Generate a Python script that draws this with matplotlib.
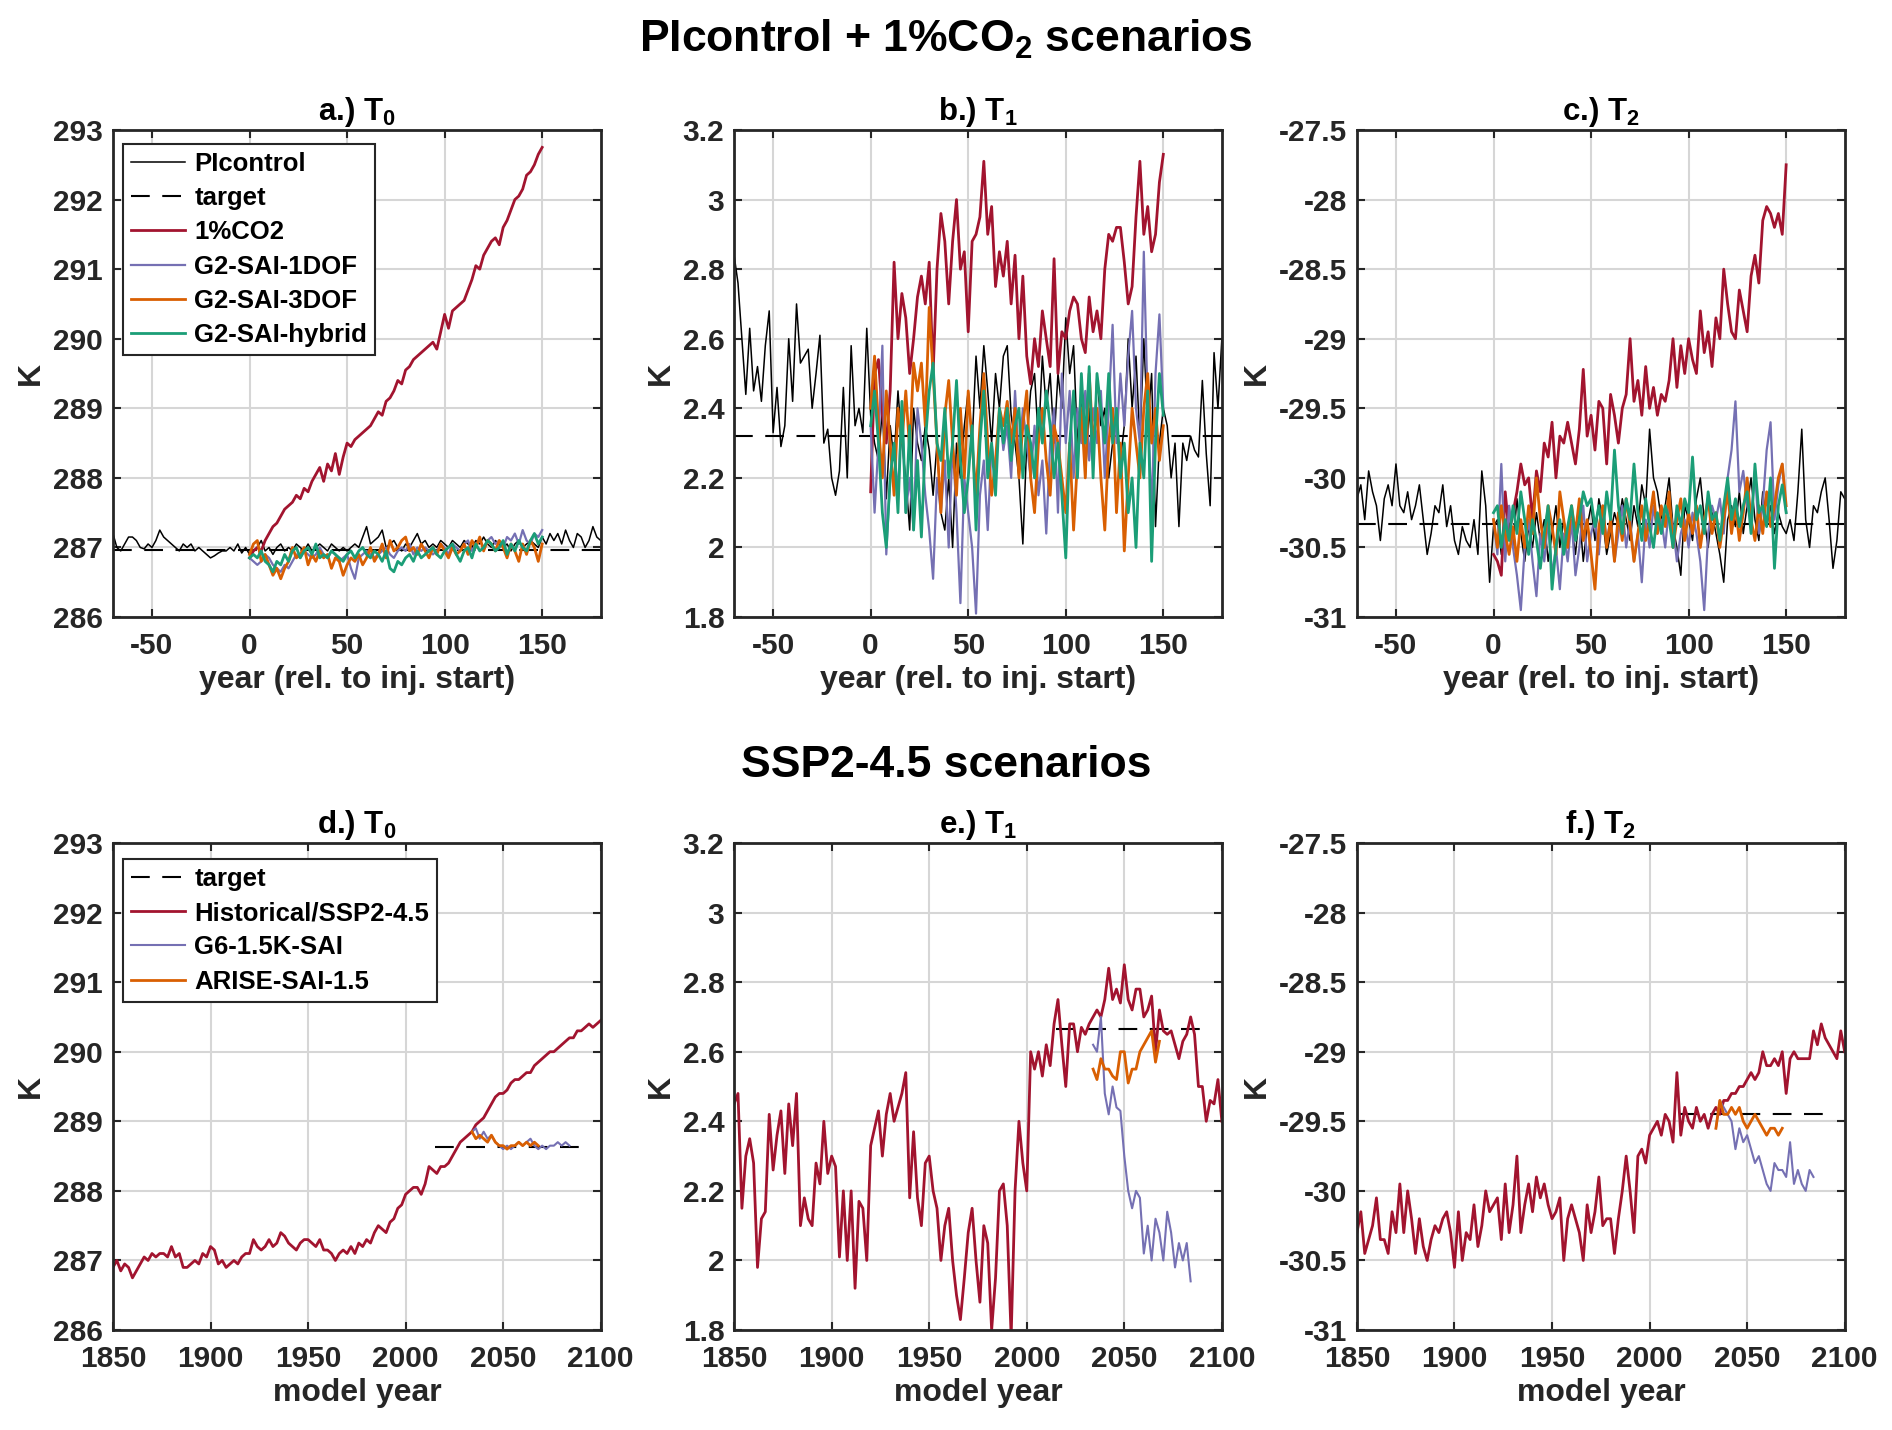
import numpy as np
import matplotlib.pyplot as plt

plt.rcParams['font.family'] = ['Liberation Sans', 'DejaVu Sans']
plt.rcParams['font.weight'] = 'bold'
plt.rcParams['mathtext.fontset'] = 'custom'
plt.rcParams['mathtext.rm'] = 'Liberation Sans:bold'
plt.rcParams['mathtext.bf'] = 'Liberation Sans:bold'
plt.rcParams['mathtext.it'] = 'Liberation Sans:bold'
plt.rcParams['mathtext.default'] = 'rm'

# ---------------- PIcontrol + 1%CO2 (years rel. to injection start) ----------------
# PIcontrol: -70 .. 180 every 2 yr ; SAI / 1%CO2 runs: 0 .. 150 every 2 yr
pi_T0 = [287.20, 287.00, 286.95, 287.05, 287.15, 287.15, 287.10, 287.00, 286.98, 287.05,
         287.00, 287.10, 287.25, 287.15, 287.10, 287.05, 287.00, 286.95, 287.05, 287.00,
         287.05, 286.95, 287.00, 286.95, 286.90, 286.85, 286.88, 286.92, 286.95, 286.95,
         287.00, 286.95, 287.05, 286.92, 287.00, 286.90, 286.95, 287.00, 287.10, 286.95,
         287.00, 286.90, 287.00, 287.05, 286.95, 287.00, 286.95, 287.05, 287.00, 286.95,
         287.05, 286.95, 287.00, 287.05, 287.00, 286.95, 287.05, 287.00, 286.95, 287.00,
         286.95, 287.00, 287.05, 287.00, 287.15, 287.30, 287.05, 287.10, 287.15, 287.25,
         287.00, 287.05, 287.10, 287.00, 286.95, 287.05, 287.00, 287.10, 287.20, 287.05,
         287.10, 287.00, 287.05, 287.00, 287.10, 287.05, 287.00, 287.10, 287.05, 287.00,
         287.10, 287.05, 287.00, 287.10, 287.05, 287.15, 287.05, 287.00, 287.10, 287.05,
         287.00, 287.05, 286.95, 287.05, 287.10, 287.00, 287.05, 287.10, 287.05, 287.00,
         287.15, 287.05, 287.20, 287.10, 287.20, 287.05, 287.25, 287.10, 287.00, 287.20,
         287.15, 287.00, 287.10, 287.30, 287.15, 287.10]
co2_T0 = [286.85, 286.95, 287.00, 286.95, 287.10, 287.20, 287.30, 287.35, 287.45, 287.55,
          287.60, 287.65, 287.75, 287.70, 287.85, 287.80, 287.95, 288.05, 288.15, 287.95,
          288.20, 288.10, 288.35, 288.05, 288.30, 288.50, 288.45, 288.55, 288.60, 288.65,
          288.70, 288.75, 288.85, 288.95, 288.90, 289.10, 289.15, 289.25, 289.40, 289.35,
          289.55, 289.60, 289.70, 289.75, 289.80, 289.85, 289.90, 289.95, 289.85, 290.10,
          290.35, 290.15, 290.40, 290.45, 290.50, 290.55, 290.70, 290.85, 291.05, 291.00,
          291.20, 291.30, 291.40, 291.45, 291.35, 291.60, 291.70, 291.85, 292.00, 292.05,
          292.15, 292.35, 292.40, 292.50, 292.65, 292.75]
dof1_T0 = [286.85, 286.80, 286.75, 286.80, 286.90, 286.85, 286.75, 286.70, 286.65, 286.75,
           286.70, 286.80, 286.90, 286.85, 286.95, 286.90, 286.85, 286.90, 287.00, 286.90,
           286.85, 286.95, 286.90, 286.80, 286.85, 286.90, 286.70, 286.55, 286.85, 286.90,
           286.95, 286.90, 286.85, 286.90, 286.95, 287.00, 286.90, 286.85, 286.95, 287.00,
           286.95, 287.05, 286.90, 287.00, 286.95, 287.00, 286.95, 286.90, 286.95, 287.05,
           287.00, 286.90, 287.05, 287.00, 286.95, 287.05, 287.10, 286.95, 287.05, 287.10,
           287.00, 287.10, 287.15, 287.05, 287.10, 287.00, 287.15, 287.10, 287.20, 287.05,
           287.25, 287.10, 287.05, 287.20, 287.15, 287.25]
dof3_T0 = [286.90, 287.05, 287.10, 286.80, 286.90, 286.75, 286.60, 286.70, 286.55, 286.70,
           286.80, 287.00, 286.85, 286.90, 287.00, 286.75, 286.90, 286.80, 286.95, 286.85,
           286.90, 286.70, 286.85, 286.80, 286.60, 286.75, 286.85, 286.80, 286.90, 286.75,
           286.85, 287.00, 286.80, 286.90, 287.05, 286.85, 287.10, 286.95, 287.00, 287.10,
           287.15, 286.95, 287.00, 286.90, 287.05, 286.95, 286.85, 287.00, 286.90, 287.05,
           286.95, 286.85, 287.00, 286.90, 286.95, 287.05, 286.90, 287.10, 287.00, 287.15,
           286.95, 287.10, 287.05, 286.95, 287.10, 287.00, 286.85, 287.05, 286.95, 286.80,
           287.05, 286.90, 287.10, 287.00, 286.80, 287.05]
hyb_T0 = [286.85, 286.90, 286.85, 286.95, 286.80, 286.75, 286.65, 286.80, 286.75, 286.90,
          286.80, 286.95, 287.00, 286.85, 286.95, 287.00, 286.90, 287.05, 286.85, 286.90,
          286.85, 286.95, 286.90, 286.85, 286.80, 286.90, 286.95, 286.85, 286.95, 287.00,
          286.90, 286.85, 286.95, 286.90, 286.80, 286.95, 286.70, 286.65, 286.80, 286.75,
          286.85, 286.90, 286.80, 286.95, 286.85, 286.90, 286.95, 287.00, 286.90, 286.85,
          286.95, 287.00, 287.05, 286.90, 286.80, 286.95, 287.00, 286.85, 287.05, 286.95,
          287.00, 287.10, 287.05, 286.95, 287.00, 287.10, 286.90, 287.05, 286.95, 287.10,
          287.00, 286.95, 287.10, 287.20, 287.05, 287.15]

pi_T1 = [2.84, 2.76, 2.60, 2.44, 2.63, 2.45, 2.52, 2.42, 2.58, 2.68,
         2.33, 2.46, 2.29, 2.35, 2.60, 2.42, 2.70, 2.53, 2.55, 2.57,
         2.40, 2.50, 2.61, 2.30, 2.34, 2.20, 2.15, 2.22, 2.46, 2.20,
         2.58, 2.35, 2.40, 2.33, 2.63, 2.38, 2.30, 2.25, 2.40, 2.14,
         2.35, 2.25, 2.45, 2.30, 2.20, 2.05, 2.40, 2.30, 2.25, 2.35,
         2.28, 2.15, 2.30, 2.10, 2.05, 2.20, 2.00, 2.30, 2.20, 2.35,
         2.45, 2.30, 2.55, 2.40, 2.58, 2.45, 2.30, 2.50, 2.40, 2.55,
         2.58, 2.38, 2.30, 2.20, 2.01, 2.30, 2.45, 2.50, 2.30, 2.55,
         2.40, 2.50, 2.30, 2.50, 2.40, 2.66, 2.50, 2.58, 2.30, 2.45,
         2.20, 2.40, 2.25, 2.50, 2.35, 2.40, 2.20, 2.30, 2.38, 2.25,
         2.35, 2.60, 2.40, 2.55, 2.30, 2.60, 2.35, 2.50, 2.06, 2.30,
         2.40, 2.35, 2.20, 2.30, 2.06, 2.30, 2.25, 2.32, 2.28, 2.26,
         2.48, 2.27, 2.12, 2.56, 2.40, 2.60]
co2_T1 = [2.16, 2.50, 2.54, 2.38, 2.30, 2.45, 2.82, 2.60, 2.73, 2.66,
          2.50, 2.60, 2.72, 2.78, 2.70, 2.82, 2.50, 2.80, 2.96, 2.88,
          2.70, 2.88, 3.00, 2.80, 2.85, 2.62, 2.88, 2.90, 2.95, 3.11,
          2.90, 2.98, 2.75, 2.85, 2.78, 2.88, 2.70, 2.84, 2.60, 2.78,
          2.55, 2.47, 2.60, 2.52, 2.68, 2.60, 2.52, 2.83, 2.50, 2.62,
          2.60, 2.68, 2.72, 2.70, 2.60, 2.56, 2.72, 2.62, 2.68, 2.60,
          2.80, 2.90, 2.88, 2.92, 2.92, 2.82, 2.70, 2.75, 2.95, 3.11,
          2.90, 2.98, 2.85, 2.90, 3.05, 3.13]
dof1_T1 = [2.35, 2.10, 2.30, 2.58, 1.98, 2.20, 2.30, 2.15, 2.40, 2.10,
           2.20, 2.05, 2.40, 2.30, 2.15, 2.05, 1.91, 2.20, 2.10, 2.25,
           2.00, 2.30, 2.10, 1.84, 2.20, 2.10, 2.00, 1.81, 2.15, 2.25,
           2.05, 2.30, 2.20, 2.40, 2.28, 2.35, 2.20, 2.45, 2.25, 2.40,
           2.30, 2.20, 2.35, 2.15, 2.25, 2.04, 2.30, 2.40, 2.10, 2.50,
           2.30, 2.45, 2.20, 2.40, 2.30, 2.45, 2.25, 2.40, 2.30, 2.45,
           2.20, 2.40, 2.64, 2.30, 2.50, 2.35, 2.55, 2.68, 2.40, 2.30,
           2.85, 2.40, 2.10, 2.50, 2.67, 2.40]
dof3_T1 = [2.40, 2.55, 2.35, 2.20, 2.45, 2.30, 2.15, 2.40, 2.30, 2.45,
           2.28, 2.53, 2.45, 2.53, 2.35, 2.69, 2.50, 2.30, 2.10, 2.38,
           2.48, 2.30, 2.15, 2.40, 2.20, 2.45, 2.30, 2.15, 2.35, 2.50,
           2.30, 2.15, 2.25, 2.40, 2.35, 2.42, 2.30, 2.40, 2.20, 2.35,
           2.45, 2.20, 2.10, 2.30, 2.40, 2.25, 2.15, 2.35, 2.30, 2.20,
           2.10, 2.30, 2.05, 2.25, 2.40, 2.20, 2.50, 2.30, 2.40, 2.20,
           2.05, 2.30, 2.40, 2.10, 2.30, 1.99, 2.20, 2.40, 2.30, 2.20,
           2.40, 2.50, 2.30, 2.40, 2.25, 2.35]
hyb_T1 = [2.35, 2.45, 2.30, 2.10, 2.00, 2.20, 2.30, 2.10, 2.42, 2.10,
          2.35, 2.05, 2.25, 2.03, 2.30, 2.45, 2.53, 2.30, 2.25, 2.40,
          2.20, 2.30, 2.48, 2.25, 2.10, 2.20, 2.35, 2.05, 2.30, 2.45,
          2.20, 2.30, 2.15, 2.40, 2.30, 2.40, 2.25, 2.35, 2.40, 2.20,
          2.35, 2.30, 2.20, 2.40, 2.30, 2.45, 2.35, 2.20, 2.30, 2.15,
          1.97, 2.30, 2.45, 2.20, 2.50, 2.30, 2.52, 2.20, 2.50, 2.40,
          2.30, 2.50, 2.30, 2.40, 2.20, 2.30, 2.10, 2.20, 2.00, 2.30,
          2.20, 2.45, 1.96, 2.30, 2.50, 2.38]

pi_T2 = [-30.15, -30.05, -30.30, -29.95, -30.10, -30.20, -30.45, -30.15, -30.05, -30.20,
         -29.90, -30.20, -30.25, -30.10, -30.30, -30.20, -30.05, -30.30, -30.55, -30.40,
         -30.20, -30.25, -30.05, -30.35, -30.20, -30.45, -30.55, -30.35, -30.45, -30.50,
         -30.30, -30.55, -29.95, -30.20, -30.75, -30.35, -30.30, -30.55, -30.40, -30.20,
         -30.50, -30.15, -30.40, -30.60, -30.35, -30.50, -30.25, -30.45, -30.30, -30.60,
         -30.40, -30.20, -30.50, -30.30, -30.45, -30.35, -30.55, -30.25, -30.60, -30.35,
         -30.20, -30.45, -30.15, -30.30, -30.55, -30.40, -30.25, -30.35, -30.15, -30.30,
         -30.45, -30.20, -30.35, -30.05, -30.20, -29.65, -30.00, -30.10, -30.30, -30.20,
         -30.00, -30.35, -30.50, -30.70, -30.20, -30.30, -30.45, -30.15, -30.00, -30.30,
         -30.50, -30.25, -30.40, -30.55, -30.75, -30.30, -30.20, -30.35, -30.10, -30.40,
         -30.20, -30.00, -30.30, -30.45, -30.10, -30.35, -30.20, -30.40, -30.25, -30.35,
         -30.40, -30.30, -30.45, -30.10, -29.65, -30.30, -30.50, -30.20, -30.25, -30.10,
         -30.00, -30.30, -30.65, -30.45, -30.10, -30.15]
co2_T2 = [-30.55, -30.60, -30.70, -30.10, -30.40, -30.25, -30.10, -29.90, -30.05, -30.00,
          -30.30, -29.95, -30.10, -29.75, -29.85, -29.60, -30.00, -29.70, -29.75, -29.60,
          -29.75, -29.90, -29.65, -29.22, -29.70, -29.55, -29.80, -29.45, -29.50, -29.90,
          -29.40, -29.55, -29.75, -29.50, -29.40, -29.00, -29.45, -29.30, -29.55, -29.20,
          -29.50, -29.35, -29.55, -29.40, -29.45, -29.30, -29.00, -29.35, -29.05, -29.25,
          -29.00, -29.15, -29.25, -28.80, -29.10, -28.95, -29.20, -28.85, -29.00, -28.50,
          -28.75, -28.95, -29.00, -28.65, -28.80, -28.95, -28.55, -28.40, -28.60, -28.15,
          -28.05, -28.10, -28.20, -28.10, -28.25, -27.75]
dof1_T2 = [-30.30, -30.55, -29.90, -30.60, -30.20, -30.50, -30.70, -30.95, -30.50, -30.30,
           -30.60, -30.85, -30.40, -30.60, -30.30, -30.70, -30.50, -30.80, -30.40, -30.60,
           -30.30, -30.70, -30.50, -30.20, -30.60, -30.40, -30.30, -30.55, -30.20, -30.45,
           -30.30, -30.60, -30.40, -30.20, -30.50, -30.30, -30.60, -30.40, -30.75, -30.30,
           -30.50, -30.20, -30.40, -30.30, -30.50, -30.20, -30.35, -30.60, -30.40, -30.30,
           -30.50, -30.25, -30.40, -30.60, -30.95, -30.40, -30.20, -30.30, -30.15, -30.40,
           -30.00, -29.80, -29.45, -30.10, -29.95, -30.20, -30.30, -29.95, -30.40, -30.20,
           -29.80, -29.60, -30.30, -30.05, -29.90, -30.25]
dof3_T2 = [-30.30, -30.50, -30.20, -30.40, -30.55, -30.35, -30.60, -30.30, -30.50, -30.20,
           -30.40, -30.00, -30.30, -30.50, -30.20, -30.35, -30.55, -30.10, -30.30, -30.50,
           -30.20, -30.40, -30.15, -30.45, -30.30, -30.55, -30.80, -30.35, -30.20, -30.50,
           -30.30, -30.60, -30.25, -30.45, -30.15, -30.35, -30.60, -30.40, -30.20, -30.45,
           -30.30, -30.10, -30.40, -30.20, -30.35, -30.10, -30.50, -30.30, -30.15, -30.45,
           -30.25, -30.40, -30.20, -30.50, -30.30, -30.15, -30.40, -30.25, -30.50, -30.30,
           -30.10, -30.40, -30.20, -30.45, -30.25, -30.00, -30.30, -30.45, -30.20, -30.40,
           -30.10, -30.35, -30.20, -30.00, -29.90, -30.20]
hyb_T2 = [-30.25, -30.20, -30.50, -30.30, -30.45, -30.20, -30.40, -30.10, -30.30, -30.55,
          -30.30, -30.45, -30.65, -30.40, -30.20, -30.80, -30.50, -30.30, -30.55, -30.35,
          -30.20, -30.45, -30.30, -30.10, -30.20, -30.15, -30.35, -30.20, -30.40, -30.10,
          -30.30, -29.80, -30.20, -30.40, -30.15, -30.30, -29.90, -30.25, -30.45, -30.15,
          -30.35, -30.50, -30.25, -30.40, -30.20, -30.30, -30.50, -30.20, -30.35, -30.15,
          -30.25, -29.85, -30.30, -30.20, -30.40, -30.10, -30.30, -30.25, -30.45, -30.20,
          -30.00, -30.30, -30.15, -30.35, -30.20, -30.10, -30.40, -29.90, -30.25, -30.20,
          -30.35, -30.00, -30.65, -30.20, -30.05, -30.25]

target_top = [286.97, 2.32, -30.33]

# ---------------- SSP2-4.5 (model years) ----------------
# historical/SSP2-4.5: 1850 .. 2100 every 2 yr ; G6: 2034 .. 2084 ; ARISE: 2034 .. 2068
hist_T0 = [286.90, 287.00, 286.85, 286.95, 286.90, 286.75, 286.85, 286.95, 287.05, 287.00,
           287.10, 287.05, 287.10, 287.10, 287.05, 287.20, 287.05, 287.10, 286.90, 286.90,
           286.95, 287.00, 286.95, 287.10, 287.05, 287.20, 287.15, 286.95, 287.00, 286.90,
           286.95, 287.00, 286.95, 287.05, 287.10, 287.10, 287.30, 287.20, 287.15, 287.20,
           287.30, 287.20, 287.25, 287.40, 287.35, 287.25, 287.20, 287.15, 287.25, 287.30,
           287.30, 287.25, 287.20, 287.30, 287.15, 287.15, 287.10, 287.00, 287.10, 287.15,
           287.10, 287.20, 287.10, 287.25, 287.20, 287.30, 287.25, 287.40, 287.50, 287.45,
           287.40, 287.55, 287.60, 287.75, 287.80, 287.95, 288.00, 288.05, 288.05, 287.95,
           288.10, 288.35, 288.30, 288.25, 288.35, 288.35, 288.40, 288.50, 288.60, 288.70,
           288.75, 288.80, 288.85, 288.95, 289.00, 289.05, 289.15, 289.25, 289.35, 289.40,
           289.40, 289.45, 289.55, 289.60, 289.60, 289.65, 289.70, 289.70, 289.80, 289.85,
           289.90, 289.95, 290.00, 290.00, 290.05, 290.10, 290.15, 290.20, 290.20, 290.30,
           290.30, 290.35, 290.40, 290.35, 290.40, 290.45]
g6_T0 = [288.85, 288.90, 288.75, 288.85, 288.75, 288.80, 288.70, 288.65, 288.60, 288.65,
         288.60, 288.65, 288.70, 288.65, 288.70, 288.75, 288.65, 288.60, 288.65, 288.60,
         288.65, 288.65, 288.70, 288.65, 288.70, 288.65]
arise_T0 = [288.85, 288.75, 288.80, 288.75, 288.70, 288.80, 288.70, 288.65, 288.65, 288.60,
            288.65, 288.65, 288.70, 288.65, 288.70, 288.65, 288.70, 288.65]

hist_T1 = [2.45, 2.48, 2.15, 2.30, 2.35, 2.28, 1.98, 2.12, 2.14, 2.42,
           2.26, 2.36, 2.43, 2.25, 2.45, 2.33, 2.48, 2.10, 2.18, 2.12,
           2.10, 2.28, 2.22, 2.40, 2.25, 2.30, 2.27, 2.01, 2.20, 2.00,
           2.20, 1.92, 2.17, 2.15, 2.00, 2.33, 2.38, 2.43, 2.30, 2.42,
           2.48, 2.40, 2.44, 2.48, 2.54, 2.18, 2.37, 2.18, 2.10, 2.28,
           2.30, 2.20, 2.15, 2.00, 2.10, 2.15, 2.00, 1.90, 1.83, 1.95,
           2.08, 2.15, 2.00, 1.88, 2.10, 2.05, 1.80, 1.95, 2.20, 2.22,
           2.10, 1.78, 2.20, 2.40, 2.28, 2.20, 2.60, 2.55, 2.60, 2.53,
           2.62, 2.56, 2.68, 2.75, 2.62, 2.50, 2.68, 2.68, 2.60, 2.67,
           2.65, 2.68, 2.70, 2.72, 2.70, 2.75, 2.84, 2.75, 2.78, 2.74,
           2.85, 2.75, 2.72, 2.78, 2.78, 2.70, 2.72, 2.76, 2.60, 2.72,
           2.66, 2.65, 2.66, 2.62, 2.58, 2.63, 2.65, 2.70, 2.65, 2.50,
           2.50, 2.40, 2.46, 2.45, 2.52, 2.40]
g6_T1 = [2.62, 2.60, 2.70, 2.48, 2.42, 2.50, 2.44, 2.43, 2.30, 2.20,
         2.15, 2.20, 2.18, 2.02, 2.10, 2.00, 2.12, 2.08, 2.00, 2.14,
         2.08, 1.98, 2.05, 2.00, 2.05, 1.94]
arise_T1 = [2.55, 2.52, 2.58, 2.55, 2.55, 2.53, 2.52, 2.60, 2.60, 2.51,
            2.55, 2.55, 2.60, 2.62, 2.64, 2.66, 2.57, 2.63]

hist_T2 = [-30.30, -30.15, -30.45, -30.35, -30.25, -30.05, -30.35, -30.35, -30.45, -30.15,
           -30.30, -29.95, -30.30, -30.00, -30.20, -30.45, -30.20, -30.40, -30.50, -30.35,
           -30.25, -30.30, -30.20, -30.15, -30.30, -30.55, -30.15, -30.50, -30.30, -30.35,
           -30.10, -30.40, -30.25, -30.00, -30.15, -30.10, -30.05, -30.35, -29.95, -30.30,
           -30.10, -29.75, -30.30, -30.10, -29.95, -30.15, -29.90, -30.05, -29.95, -30.10,
           -30.20, -30.15, -30.05, -30.50, -30.20, -30.10, -30.20, -30.30, -30.50, -30.10,
           -30.30, -30.15, -29.90, -30.25, -30.20, -30.20, -30.45, -30.20, -30.00, -29.75,
           -30.00, -30.30, -29.75, -29.70, -29.80, -29.60, -29.55, -29.50, -29.60, -29.45,
           -29.50, -29.65, -29.15, -29.60, -29.40, -29.50, -29.55, -29.40, -29.50, -29.45,
           -29.55, -29.45, -29.40, -29.45, -29.35, -29.35, -29.30, -29.30, -29.25, -29.25,
           -29.20, -29.15, -29.20, -29.15, -29.00, -29.10, -29.10, -29.05, -29.10, -29.00,
           -29.30, -29.05, -29.00, -29.05, -29.05, -29.05, -29.05, -28.85, -28.95, -28.80,
           -28.90, -28.95, -29.00, -29.05, -28.85, -29.00]
g6_T2 = [-29.55, -29.35, -29.40, -29.45, -29.50, -29.70, -29.55, -29.65, -29.60, -29.70,
         -29.80, -29.75, -29.85, -29.95, -30.00, -29.80, -29.85, -29.85, -29.90, -29.65,
         -29.95, -29.85, -29.95, -30.00, -29.85, -29.90]
arise_T2 = [-29.55, -29.35, -29.45, -29.45, -29.40, -29.45, -29.40, -29.50, -29.55, -29.50,
            -29.45, -29.50, -29.55, -29.60, -29.55, -29.55, -29.60, -29.55]

target_bot = [288.63, 2.665, -29.45]

# axis settings per column
ylims = [(286, 293), (1.8, 3.2), (-31, -27.5)]
yticks = [[286, 287, 288, 289, 290, 291, 292, 293],
          [1.8, 2.0, 2.2, 2.4, 2.6, 2.8, 3.0, 3.2],
          [-31, -30.5, -30, -29.5, -29, -28.5, -28, -27.5]]
top_titles = ['a.) T$_0$', 'b.) T$_1$', 'c.) T$_2$']
bot_titles = ['d.) T$_0$', 'e.) T$_1$', 'f.) T$_2$']

RED = '#A2142F'
PURPLE = '#7570B3'
ORANGE = '#D95F02'
GREEN = '#1B9E77'
INK = '#262626'


def yrs(first, last, vals):
    return np.linspace(first, last, len(vals))


def style(ax, col, xlim, xticks, title, xlabel):
    ax.set_xlim(*xlim)
    ax.set_ylim(*ylims[col])
    ax.set_xticks(xticks)
    ax.set_xticklabels([f'{t:g}' for t in xticks])
    ax.set_yticks(yticks[col])
    ax.set_yticklabels([f'{t:g}' for t in yticks[col]])
    ax.grid(True, color='#d6d6d6', lw=1.5)
    ax.set_axisbelow(True)
    ax.tick_params(direction='in', length=6, width=1.5, top=True, right=True,
                   labelsize=21.5, colors=INK)
    ax.tick_params(axis='x', pad=10.5)
    ax.tick_params(axis='y', pad=7)
    for s in ax.spines.values():
        s.set_linewidth(2)
        s.set_color(INK)
    ax.set_title(title, fontsize=22.5, fontweight='bold', color='black', pad=7)
    ax.set_xlabel(xlabel, fontsize=23, fontweight='bold', color=INK, labelpad=4)
    ax.set_ylabel('K', fontsize=23, fontweight='bold', color=INK, labelpad=5)


def add_legend(ax, top):
    leg = ax.legend(loc='upper left', bbox_to_anchor=(0.021, top),
                    borderaxespad=0, fontsize=18.5, fancybox=False,
                    edgecolor=INK, framealpha=1, handlelength=2.1,
                    handletextpad=0.35, labelspacing=0.4, borderpad=0.32)
    leg.get_frame().set_linewidth(1.5)


fig = plt.figure(figsize=(18.92, 14.30), dpi=100)
fig.patch.set_facecolor('white')
lefts = [0.0597, 0.388, 0.7172]
w, h = 0.2578, 0.3406

top_data = [(pi_T0, co2_T0, dof1_T0, dof3_T0, hyb_T0),
            (pi_T1, co2_T1, dof1_T1, dof3_T1, hyb_T1),
            (pi_T2, co2_T2, dof1_T2, dof3_T2, hyb_T2)]
bot_data = [(hist_T0, g6_T0, arise_T0),
            (hist_T1, g6_T1, arise_T1),
            (hist_T2, g6_T2, arise_T2)]

for col in range(3):
    # top row
    ax = fig.add_axes([lefts[col], 0.5685, w, h])
    pi, co2, d1, d3, hy = top_data[col]
    ax.plot(yrs(-70, 180, pi), pi, color='k', lw=1.1, label='PIcontrol')
    ax.plot([-70, 180], [target_top[col]] * 2, color='k', lw=1.5,
            dashes=(9, 6), label='target')
    ax.plot(yrs(0, 150, co2), co2, color=RED, lw=2.0, label='1%CO2')
    ax.plot(yrs(0, 150, d1), d1, color=PURPLE, lw=1.6, label='G2-SAI-1DOF')
    ax.plot(yrs(0, 150, d3), d3, color=ORANGE, lw=2.0, label='G2-SAI-3DOF')
    ax.plot(yrs(0, 150, hy), hy, color=GREEN, lw=2.0, label='G2-SAI-hybrid')
    style(ax, col, (-70, 180), [-50, 0, 50, 100, 150], top_titles[col],
          'year (rel. to inj. start)')
    if col == 0:
        add_legend(ax, 0.972)

    # bottom row
    ax = fig.add_axes([lefts[col], 0.0699, w, h])
    hist, g6, ar = bot_data[col]
    ax.plot([2015, 2095], [target_bot[col]] * 2, color='k', lw=1.5,
            dashes=(9, 6), label='target')
    ax.plot(yrs(1850, 2100, hist), hist, color=RED, lw=2.0,
            label='Historical/SSP2-4.5')
    ax.plot(yrs(2034, 2084, g6), g6, color=PURPLE, lw=1.5, label='G6-1.5K-SAI')
    ax.plot(yrs(2034, 2068, ar), ar, color=ORANGE, lw=2.0, label='ARISE-SAI-1.5')
    style(ax, col, (1850, 2100), [1850, 1900, 1950, 2000, 2050, 2100],
          bot_titles[col], 'model year')
    if col == 0:
        add_legend(ax, 0.968)

fig.text(0.5, 0.9636, 'PIcontrol + 1%CO$_2$ scenarios', ha='center',
         va='baseline', fontsize=32, fontweight='bold')
fig.text(0.5, 0.4566, 'SSP2-4.5 scenarios', ha='center', va='baseline',
         fontsize=32, fontweight='bold')

fig.savefig('out.png', dpi=100, facecolor='white')
